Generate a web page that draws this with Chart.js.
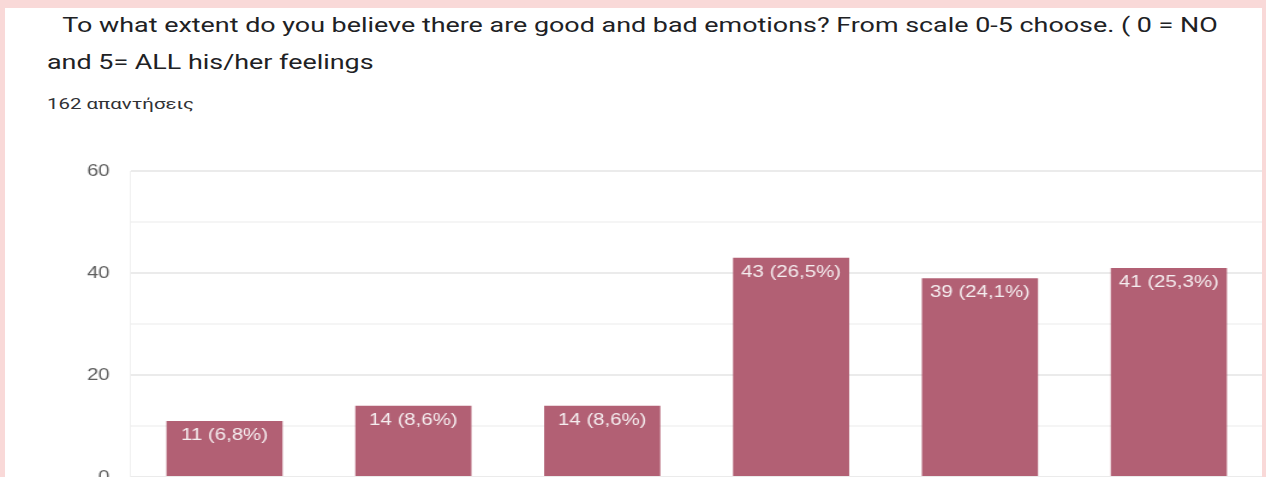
<!DOCTYPE html>
<html>
<head>
<meta charset="utf-8">
<script src="https://cdn.jsdelivr.net/npm/chart.js@4.4.1/dist/chart.umd.min.js"></script>
<style>
  html, body { margin: 0; padding: 0; }
  body { width: 1266px; height: 477px; overflow: hidden; background: #f9d9d8; position: relative; }
  .panel { position: absolute; left: 5px; top: 8px; width: 1257px; height: 600px; background: #fff; }
  .title { position: absolute; left: 47px; top: 7px; width: 1000px; font-family: Roboto, sans-serif; font-size: 21px; line-height: 37px; color: #202124; transform: scaleX(1.28); transform-origin: left top; white-space: nowrap; }
  .title .l1 { padding-left: 12px; }
  .count { position: absolute; left: 47px; top: 95px; font-family: Roboto, sans-serif; font-size: 15px; color: #303134; transform: scaleX(1.36); transform-origin: left top; white-space: nowrap; }
  .chart-box { position: absolute; left: 0; top: 144px; width: 1051.67px; height: 376px; transform: scaleX(1.2); transform-origin: left top; }
</style>
</head>
<body>
<div class="panel"></div>
<div class="title"><div class="l1">To what extent do you believe there are good and bad emotions? From scale 0-5 choose. ( 0 = NO</div><div>and 5= ALL his/her feelings</div></div>
<div class="count">162 απαντήσεις</div>
<div class="chart-box"><canvas id="emotionsChart"></canvas></div>
<script>
const categories = ['0', '1', '2', '3', '4', '5'];
const responses = [11, 14, 14, 43, 39, 41];
const percentLabels = ['6,8%', '8,6%', '8,6%', '26,5%', '24,1%', '25,3%'];
const yTicks = [0, 20, 40, 60];

// value + share label drawn inside the top of each bar
const barLabels = {
    id: 'barLabels',
    afterDatasetsDraw(chart) {
        const ctx = chart.ctx;
        const meta = chart.getDatasetMeta(0);
        ctx.save();
        ctx.font = '17px "Liberation Sans", Arial, sans-serif';
        ctx.fillStyle = '#f5eef0';
        ctx.textAlign = 'center';
        ctx.textBaseline = 'top';
        meta.data.forEach(function (bar, i) {
            ctx.fillText(responses[i] + ' (' + percentLabels[i] + ')', bar.x, bar.y + 6);
        });
        ctx.restore();
    }
};

new Chart(document.getElementById('emotionsChart').getContext('2d'), {
    type: 'bar',
    data: {
        labels: categories,
        datasets: [{
            data: responses,
            backgroundColor: '#b26074',
            categoryPercentage: 0.615,
            barPercentage: 1
        }]
    },
    options: {
        responsive: true,
        maintainAspectRatio: false,
        animation: false,
        layout: { padding: { top: 10, right: 0, left: 0, bottom: 0 } },
        scales: {
            x: {
                grid: { display: false },
                border: { color: '#a0a0a0' },
                ticks: { color: '#5f5f5f', font: { size: 17, family: '"Liberation Sans", Arial' } },
                afterFit: function (scale) { scale.height = 43; }
            },
            y: {
                min: 0,
                max: 60,
                ticks: {
                    stepSize: 10,
                    color: '#5f5f5f',
                    padding: 17,
                    font: { size: 17, family: '"Liberation Sans", Arial' },
                    callback: function (v) { return yTicks.includes(v) ? v : ''; }
                },
                grid: {
                    drawTicks: false,
                    color: function (c) { return c.tick && c.tick.value % 20 === 0 ? '#ebebeb' : '#f5f5f5'; },
                    lineWidth: 2
                },
                border: { display: true, color: '#f0f0f0' },
                afterFit: function (scale) { scale.width = 108.3; }
            }
        },
        plugins: {
            legend: { display: false },
            tooltip: { enabled: false }
        }
    },
    plugins: [barLabels]
});
</script>
</body>
</html>
